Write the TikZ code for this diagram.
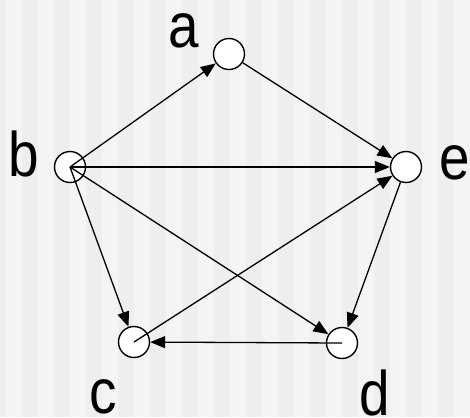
\documentclass[tikz,border=0pt]{standalone}
\usepackage{fontspec}
\setmainfont{Liberation Sans}
\usetikzlibrary{arrows.meta}
\definecolor{stripeA}{HTML}{EEEEEE}
\definecolor{stripeB}{HTML}{F4F4F4}
\begin{document}
\begin{tikzpicture}[x=1bp,y=-1bp,
  vertex/.style={circle,draw=black,fill=white,line width=1.4bp,minimum size=31bp,inner sep=0pt},
  lbl/.style={anchor=base,inner sep=0pt,font=\fontsize{63bp}{63bp}\selectfont,xscale=0.87},
  edge/.style={line width=1.3bp,-{Triangle[length=15bp,width=12bp]}}]
\fill[stripeB] (0,0) rectangle (470,417);
\foreach \k in {0,...,14} {
  \fill[stripeA] ({max(0,-10+32*\k)},0) rectangle ({min(470,6+32*\k)},417);
}
\useasboundingbox (0,0) rectangle (470,417);
\node[vertex] (a) at (229,54) {};
\node[vertex] (b) at (70,167) {};
\node[vertex] (e) at (406,167) {};
\node[vertex] (c) at (134,342) {};
\node[vertex] (d) at (342,343) {};
\node[lbl] (la) at (184,47) {a};
\node[lbl] (lb) at (24,176) {b};
\node[lbl] (le) at (455,179) {e};
\node[lbl] (lc) at (103,413) {c};
\node[lbl] (ld) at (375,415) {d};
\draw[edge] (b.center) -- (a);
\draw[edge] (a) -- (e);
\draw[edge] (b.center) -- (e);
\draw[edge] (b.center) -- (c);
\draw[edge] (b.center) -- (d);
\draw[edge] (c.center) -- (e);
\draw[edge] (e) -- (d);
\draw[edge] (d.center) -- (c);
\end{tikzpicture}
\end{document}
